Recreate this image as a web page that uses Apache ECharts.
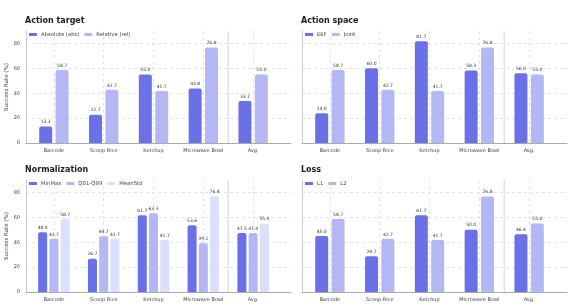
<!DOCTYPE html>
<html>
<head>
<meta charset="utf-8">
<script src="https://cdn.jsdelivr.net/npm/echarts@6/dist/echarts.min.js"></script>
<style>
  html, body { margin: 0; padding: 0; background: #fff; }
  #chart { width: 571px; height: 308px; }
</style>
</head>
<body>
<div id="chart"></div>
<script>
const categories = ['Barcode', 'Scoop Rice', 'Ketchup', 'Microwave Bowl', 'Avg.']
const catPos = [0, 1, 2, 3, 4]
const yTicks = [0, 20, 40, 60, 80]
const yMax = 90
const avgSplit = 3.5

// Action target
const targetAbs = [13.3, 22.7, 55.0, 43.8, 33.7]
const targetRel = [58.7, 42.7, 41.7, 76.8, 55.0]
// Action space
const spaceEef = [24.0, 60.0, 81.7, 58.3, 56.0]
const spaceJoint = [58.7, 42.7, 41.7, 76.8, 55.0]
// Normalization
const normMinMax = [48.0, 26.7, 61.7, 53.6, 47.5]
const normQ01 = [42.7, 44.7, 63.3, 39.1, 47.4]
const normMeanStd = [58.7, 42.7, 41.7, 76.8, 55.0]
// Loss
const lossL1 = [45.0, 28.7, 61.7, 50.0, 46.4]
const lossL2 = [58.7, 42.7, 41.7, 76.8, 55.0]

const DARK = '#6a70e6'
const LIGHT = '#b3b7f4'
const LIGHTEST = '#dcdffa'
const FONT = 'DejaVu Sans'

const panels = [
  { title: 'Action target', left: 26, top: 31, yName: true,
    series: [['Absolute (abs)', targetAbs, DARK], ['Relative (rel)', targetRel, LIGHT]] },
  { title: 'Action space', left: 302, top: 31, yName: false,
    series: [['EEF', spaceEef, DARK], ['Joint', spaceJoint, LIGHT]] },
  { title: 'Normalization', left: 26, top: 180, yName: true,
    series: [['MinMax', normMinMax, DARK], ['Q01-Q99', normQ01, LIGHT], ['MeanStd', normMeanStd, LIGHTEST]] },
  { title: 'Loss', left: 302, top: 180, yName: false,
    series: [['L1', lossL1, DARK], ['L2', lossL2, LIGHT]] },
]

const chart = echarts.init(document.getElementById('chart'))

const option = {
  animation: false,
  textStyle: { fontFamily: FONT },
  title: [],
  legend: [],
  grid: [],
  xAxis: [],
  yAxis: [],
  series: [],
}

const gridLine = { show: true, lineStyle: { color: '#ddd', type: [3, 3], width: 0.8 } }

panels.forEach((p, i) => {
  option.title.push({
    text: p.title, left: p.left - 1, top: p.top - 14, padding: 0,
    textStyle: { fontSize: 8, fontWeight: 'bold', color: '#1b1b2b', fontFamily: FONT },
  })
  option.legend.push({
    data: p.series.map(s => s[0]),
    left: p.left + 1, top: p.top + 1, padding: [0, 2],
    itemWidth: 8, itemHeight: 3, itemGap: 5,
    backgroundColor: 'rgba(255,255,255,0.85)',
    icon: 'rect',
    textStyle: { fontSize: 5.3, color: '#444', fontFamily: FONT, padding: [0, 0, 0, -1] },
  })
  option.grid.push({ left: p.left, width: 265, top: p.top, height: 112 })
  option.xAxis.push({
    type: 'value', gridIndex: i, min: -0.56, max: 4.76,
    axisLine: { show: true, onZero: false, lineStyle: { color: '#aaa', width: 1 } },
    axisTick: { show: false, customValues: catPos },
    splitLine: gridLine,
    axisLabel: {
      customValues: catPos,
      formatter: v => categories[Math.round(v)],
      fontSize: 5, color: '#444', margin: 5, fontFamily: FONT,
    },
  })
  option.yAxis.push({
    type: 'value', gridIndex: i, min: 0, max: yMax,
    name: p.yName ? 'Success Rate (%)' : '',
    nameLocation: 'middle', nameGap: 16,
    nameTextStyle: { fontSize: 5.5, color: '#444', fontFamily: FONT },
    axisLine: { show: true, onZero: false, lineStyle: { color: '#ccc', width: 1 } },
    axisTick: { show: false, customValues: yTicks },
    splitLine: gridLine,
    axisLabel: {
      show: p.yName,
      customValues: yTicks,
      fontSize: 5, color: '#444', margin: 6, fontFamily: FONT,
    },
  })

  // separator before the Avg. group
  option.series.push({
    type: 'line', xAxisIndex: i, yAxisIndex: i, z: 1, silent: true,
    data: [[avgSplit, 0], [avgSplit, yMax]],
    symbol: 'none',
    lineStyle: { color: '#d9d9e3', width: 1.2 },
  })

  const three = p.series.length === 3
  p.series.forEach(([name, vals, color]) => {
    option.series.push({
      name, type: 'bar', xAxisIndex: i, yAxisIndex: i, z: 3,
      data: vals.map((v, k) => [catPos[k], v]),
      barWidth: three ? 9 : 13,
      barGap: three ? '25%' : '26%',
      itemStyle: { color, borderRadius: [2, 2, 0, 0] },
      label: {
        show: true, position: 'top', distance: 2,
        fontSize: 4.5, color: '#333', fontFamily: FONT,
        formatter: d => d.value[1].toFixed(1),
      },
    })
  })
})

chart.setOption(option)
</script>
</body>
</html>
